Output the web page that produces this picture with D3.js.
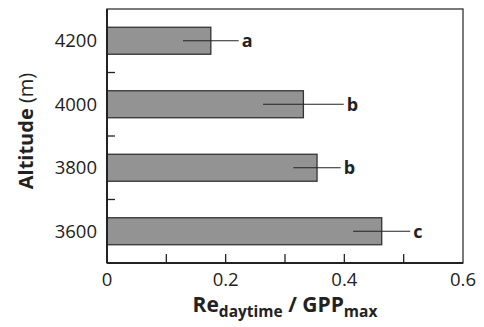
<!DOCTYPE html>
<html>
<head>
<meta charset="utf-8">
<script src="https://cdn.jsdelivr.net/npm/d3@7"></script>
<style>
  body { margin: 0; background: #fff; }
  text { font-family: "Open Sans", "Noto Sans", sans-serif; fill: #222; }
</style>
</head>
<body>
<svg id="svg" width="484" height="327"></svg>
<script>
// altitudes (top to bottom) and their values
const altitudes = ["4200", "4000", "3800", "3600"];
const ratio = [0.175, 0.331, 0.354, 0.463];
const errs = [0.047, 0.068, 0.040, 0.048];
const letters = ["a", "b", "b", "c"];
const xTicks = [0, 0.2, 0.4, 0.6];
const xMinor = [0.1, 0.2, 0.3, 0.4, 0.5];

const rows = altitudes.map((a, i) => ({ alt: a, v: ratio[i], e: errs[i], l: letters[i] }));

const m = { left: 107, top: 9, right: 463, bottom: 263 };
const svg = d3.select("#svg");

const x = d3.scaleLinear().domain([0, 0.6]).range([m.left, m.right]);
const y = d3.scaleBand().domain(altitudes).range([m.top, m.bottom]).paddingInner(0.575).paddingOuter(0.2875);

// bars
svg.selectAll(".bar")
  .data(rows)
  .join("rect")
  .attr("class", "bar")
  .attr("x", x(0))
  .attr("y", (d) => y(d.alt))
  .attr("width", (d) => x(d.v) - x(0))
  .attr("height", y.bandwidth())
  .attr("fill", "#939393")
  .attr("stroke", "#333")
  .attr("stroke-width", 1.3);

// error lines (drawn across the bar end)
svg.selectAll(".err")
  .data(rows)
  .join("line")
  .attr("class", "err")
  .attr("x1", (d) => x(d.v - d.e))
  .attr("x2", (d) => x(d.v + d.e))
  .attr("y1", (d) => y(d.alt) + y.bandwidth() / 2)
  .attr("y2", (d) => y(d.alt) + y.bandwidth() / 2)
  .attr("stroke", "#222")
  .attr("stroke-width", 1.2);

// significance letters
svg.selectAll(".letter")
  .data(rows)
  .join("text")
  .attr("class", "letter")
  .attr("x", (d) => x(d.v + d.e) + 3)
  .attr("y", (d) => y(d.alt) + y.bandwidth() / 2)
  .attr("dy", "0.35em")
  .style("font-size", "18px")
  .style("font-weight", "bold")
  .text((d) => d.l);

// frame
svg.append("rect")
  .attr("x", m.left)
  .attr("y", m.top)
  .attr("width", m.right - m.left)
  .attr("height", m.bottom - m.top)
  .attr("fill", "none")
  .attr("stroke", "#333")
  .attr("stroke-width", 1.3);
svg.append("line")
  .attr("x1", m.left).attr("x2", m.right)
  .attr("y1", m.bottom).attr("y2", m.bottom)
  .attr("stroke", "#222").attr("stroke-width", 2);
svg.append("line")
  .attr("x1", m.left).attr("x2", m.left)
  .attr("y1", m.top).attr("y2", m.bottom)
  .attr("stroke", "#222").attr("stroke-width", 2);

// x ticks pointing inward
svg.selectAll(".xt")
  .data(xMinor)
  .join("line")
  .attr("class", "xt")
  .attr("x1", (d) => x(d)).attr("x2", (d) => x(d))
  .attr("y1", m.bottom).attr("y2", m.bottom - 9)
  .attr("stroke", "#222").attr("stroke-width", 1.3);

svg.selectAll(".xl")
  .data(xTicks)
  .join("text")
  .attr("class", "xl")
  .attr("x", (d) => x(d))
  .attr("y", 286)
  .attr("text-anchor", "middle")
  .style("font-size", "18.5px")
  .text((d) => d === 0 ? "0" : d3.format(".1f")(d));

// y ticks between bands
const bounds = altitudes.slice(1).map((a) => y(a) - y.step() * y.paddingInner() / 2);
svg.selectAll(".yt")
  .data(bounds)
  .join("line")
  .attr("class", "yt")
  .attr("x1", m.left).attr("x2", m.left + 8)
  .attr("y1", (d) => d).attr("y2", (d) => d)
  .attr("stroke", "#222").attr("stroke-width", 1.3);

svg.selectAll(".yl")
  .data(altitudes)
  .join("text")
  .attr("class", "yl")
  .attr("x", 97)
  .attr("y", (d) => y(d) + y.bandwidth() / 2)
  .attr("dy", "0.36em")
  .attr("text-anchor", "end")
  .style("font-size", "18.5px")
  .text((d) => d);

// axis titles
const yt = svg.append("text")
  .attr("transform", "translate(33,131) rotate(-90)")
  .attr("text-anchor", "middle")
  .style("font-size", "20px");
yt.append("tspan").style("font-weight", "bold").text("Altitude");
yt.append("tspan").text(" (m)");

const xt = svg.append("text")
  .attr("x", 285)
  .attr("y", 312)
  .attr("text-anchor", "middle")
  .style("font-size", "21px")
  .style("font-weight", "bold");
xt.append("tspan").text("Re");
xt.append("tspan").attr("dy", 5).style("font-size", "15.5px").text("daytime");
xt.append("tspan").attr("dy", -5).text(" / GPP");
xt.append("tspan").attr("dy", 5).style("font-size", "15.5px").text("max");
</script>
</body>
</html>
